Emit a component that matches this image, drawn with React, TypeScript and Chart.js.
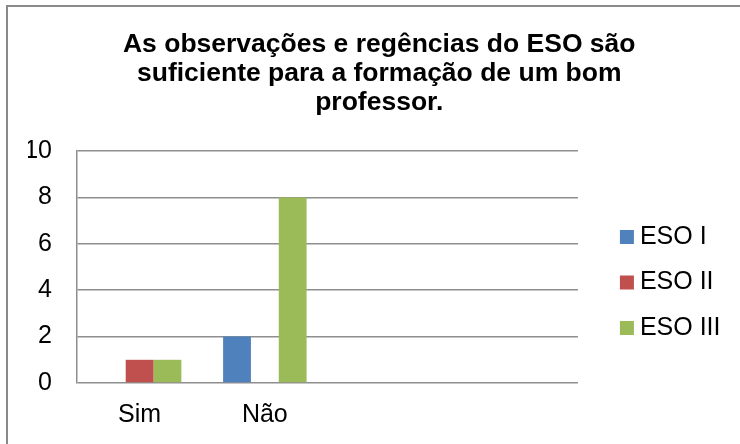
import React, { useEffect, useRef } from "react";
import { Chart, registerables } from "chart.js";

Chart.register(...registerables);

const titleLines = [
  "As observações e regências do ESO são",
  "suficiente para a formação de um bom",
  "professor.",
];
const categories = ["Sim", "Não", "", ""];
const seriesNames = ["ESO I", "ESO II", "ESO III"];
const esoI = [0, 2, null, null];
const esoII = [1, 0, null, null];
const esoIII = [1, 8, null, null];
const colors = ["#4F81BD", "#C0504D", "#9BBB59"];
const yMin = 0;
const yMax = 10;
const yStep = 2;

const FONT = "'Liberation Sans', Arial, sans-serif";
const GRID = "#8e8e8e";

export default function App() {
  const ref = useRef<HTMLCanvasElement | null>(null);

  useEffect(() => {
    if (!ref.current) return;
    const values = [esoI, esoII, esoIII];
    const chart = new Chart(ref.current, {
      type: "bar",
      data: {
        labels: categories,
        datasets: seriesNames.map((name, i) => ({
          label: name,
          data: values[i],
          backgroundColor: colors[i],
          borderWidth: 0,
          categoryPercentage: 2 / 3,
          barPercentage: 1,
        })),
      },
      options: {
        animation: false,
        responsive: false,
        devicePixelRatio: 1,
        layout: { padding: { left: 28, right: 9.5, top: 0, bottom: 0 } },
        plugins: {
          tooltip: { enabled: false },
          title: {
            display: true,
            text: titleLines,
            color: "#000",
            font: { family: FONT, size: 26.5, weight: "bold", lineHeight: 29 / 26.5 },
            padding: { top: 30.5, bottom: 33.5 },
          },
          legend: {
            display: true,
            position: "right",
            align: "center",
            title: {
              display: true,
              text: "",
              font: { family: FONT, size: 10, lineHeight: 1 },
              padding: { top: 111, bottom: 0 },
            },
            labels: {
              color: "#000",
              font: { family: FONT, size: 25 },
              usePointStyle: true,
              pointStyle: "rect",
              boxWidth: 1,
              boxHeight: 14,
              padding: 20.5,
            },
          },
        },
        scales: {
          x: {
            grid: { display: false, drawTicks: false },
            border: { display: false },
            ticks: {
              color: "#000",
              font: { family: FONT, size: 25 },
              padding: 17,
              maxRotation: 0,
              autoSkip: false,
            },
            afterFit: (s: any) => {
              s.height = 61;
            },
          },
          y: {
            min: yMin,
            max: yMax,
            grid: { color: GRID, lineWidth: 1.5, drawTicks: false },
            border: { display: true, color: GRID, width: 1.5 },
            ticks: {
              stepSize: yStep,
              color: "#000",
              font: { family: FONT, size: 25 },
              padding: 25,
            },
            afterFit: (s: any) => {
              s.width = 49;
            },
          },
          y2: {
            type: "linear",
            position: "right",
            display: false,
            afterFit: (s: any) => {
              s.width = 28;
            },
          },
        },
      },
    } as any);
    return () => chart.destroy();
  }, []);

  return (
    <div
      style={{
        position: "fixed",
        left: 0,
        top: 0,
        width: 740,
        height: 444,
        background: "#fff",
        overflow: "hidden",
      }}
    >
      <div
        style={{
          position: "absolute",
          left: 6,
          top: 5,
          width: 780,
          height: 480,
          border: "2px solid #8a8a8a",
          boxSizing: "border-box",
        }}
      />
      <canvas
        ref={ref}
        width={740}
        height={444}
        style={{ position: "absolute", left: 0, top: 0, width: 740, height: 444 }}
      />
    </div>
  );
}
